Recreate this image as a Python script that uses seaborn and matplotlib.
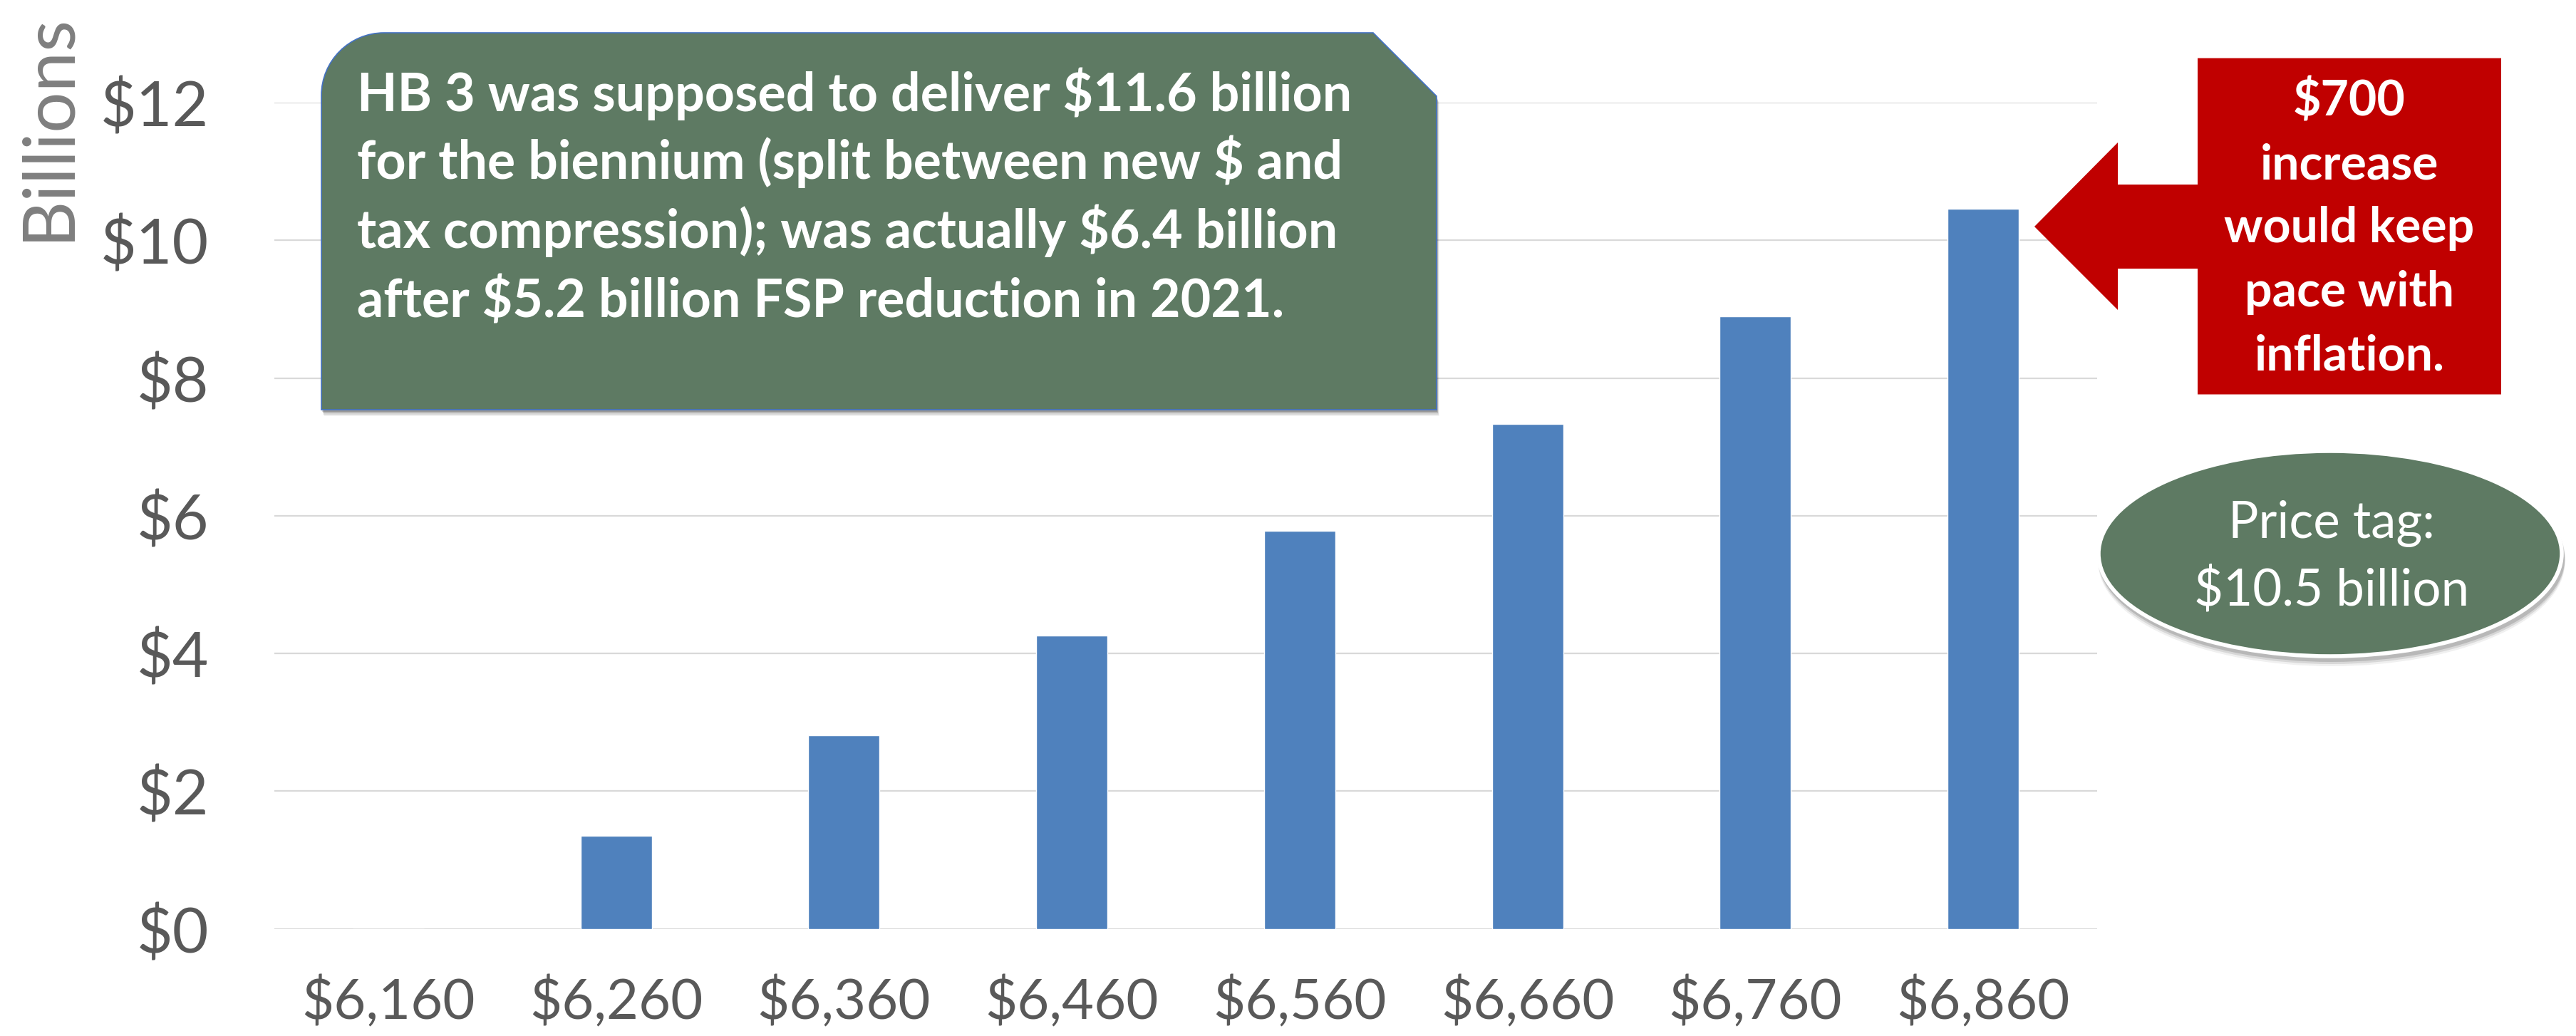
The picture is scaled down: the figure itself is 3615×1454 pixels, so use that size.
import numpy as np
import pandas as pd
import matplotlib
matplotlib.use("Agg")
import matplotlib.pyplot as plt
import seaborn as sns
from matplotlib.path import Path
from matplotlib.patches import PathPatch, Ellipse, Polygon

# ---------------- data ----------------
categories = ["$6,160", "$6,260", "$6,360", "$6,460", "$6,560", "$6,660", "$6,760", "$6,860"]
values = [0.0, 1.35, 2.81, 4.26, 5.78, 7.33, 8.90, 10.46]
y_ticks = [0, 2, 4, 6, 8, 10, 12]
y_tick_labels = ["$0", "$2", "$4", "$6", "$8", "$10", "$12"]
y_label = "Billions"
green_lines = ["HB 3 was supposed to deliver $11.6 billion",
               "for the biennium (split between new $ and",
               "tax compression); was actually $6.4 billion",
               "after $5.2 billion FSP reduction in 2021."]
red_lines = ["$700", "increase", "would keep", "pace with", "inflation."]
oval_lines = ["Price tag:", "$10.5 billion"]

# ---------------- style ----------------
sns.set_style("white")
plt.rcParams['font.family'] = ['Lato', 'DejaVu Sans']

W, H, DPI = 3615, 1454, 100
BAR = '#4F81BD'
GREEN = '#5E7A63'
RED = '#C00000'
TICK = '#595959'

fig = plt.figure(figsize=(W / DPI, H / DPI), dpi=DPI)
fig.patch.set_facecolor('white')

ax_l, ax_r, ax_t, ax_b = 385, 2943, 144, 1303.7
ax = fig.add_axes([ax_l / W, 1 - ax_b / H, (ax_r - ax_l) / W, (ax_b - ax_t) / H])

df = pd.DataFrame({"level": categories, "cost": values})
sns.barplot(data=df, x="level", y="cost", color=BAR, saturation=1,
            width=0.3125, ax=ax, zorder=3)
ax.set_xlim(-0.5, 7.5)
ax.set_ylim(0, 12)
ax.set_yticks(y_ticks)
ax.set_yticklabels(y_tick_labels)
ax.yaxis.grid(True, color='#D9D9D9', linewidth=1.6)
ax.xaxis.grid(False)
ax.set_axisbelow(True)
for s in ax.spines.values():
    s.set_visible(False)
ax.tick_params(axis='y', length=0, pad=66, labelsize=63, labelcolor=TICK)
ax.tick_params(axis='x', length=0, pad=48, labelsize=56, labelcolor=TICK)
ax.set_xlabel("")
ax.set_ylabel("")

fig.text(68 / W, 1 - 178 / H, y_label, rotation=90, ha='center', va='center',
         fontsize=73, color='#7F7F7F')

# ---------------- overlay (pixel coords, y down) ----------------
ov = fig.add_axes([0, 0, 1, 1])
ov.set_xlim(0, W)
ov.set_ylim(H, 0)
ov.axis('off')
ov.set_zorder(5)
ov.patch.set_alpha(0)

# green callout: rounded top-left, snipped top-right
L, R, T, B = 451, 2016, 46, 575
r, s = 88, 89
k = 0.5523 * r
verts = [(L, B), (R, B), (R, T + s), (R - s, T), (L + r, T),
         (L + r - k, T), (L, T + r - k), (L, T + r), (L, B)]
codes = [Path.MOVETO, Path.LINETO, Path.LINETO, Path.LINETO, Path.LINETO,
         Path.CURVE4, Path.CURVE4, Path.CURVE4, Path.CLOSEPOLY]
for d, a in [(9, 0.06), (7, 0.1), (5, 0.14), (3, 0.18)]:
    sh = [(x + d * 0.4, y + d) for x, y in verts]
    ov.add_patch(PathPatch(Path(sh, codes), facecolor='black', edgecolor='none', alpha=a))
ov.add_patch(PathPatch(Path(verts, codes), facecolor=GREEN, edgecolor='#4472C4', lw=1.2))
for line, yb in zip(green_lines, [156, 251, 348, 445]):
    ov.text(501, yb, line, ha='left', va='baseline', fontsize=53,
            fontweight='bold', color='white')

# red left-arrow callout
poly = [(3084, 81.6), (3510, 81.6), (3510, 553.5), (3084, 553.5), (3084, 377),
        (2972, 377), (2972, 435), (2855, 318), (2972, 200), (2972, 259), (3084, 259)]
ov.add_patch(Polygon(poly, closed=True, facecolor=RED, edgecolor='none'))
for line, yb in zip(red_lines, [162, 251, 340, 430, 519]):
    ov.text(3297, yb, line, ha='center', va='baseline', fontsize=49,
            fontweight='bold', color='white')

# oval
for d, a in [(12, 0.06), (9, 0.1), (6, 0.14)]:
    ov.add_patch(Ellipse((3272, 777 + d), 655, 292, facecolor='black',
                         edgecolor='none', alpha=a))
ov.add_patch(Ellipse((3270, 777), 650, 288, facecolor=GREEN, edgecolor='white', lw=4))
for line, yb in zip(oval_lines, [755, 850]):
    ov.text(3272, yb, line, ha='center', va='baseline', fontsize=51, color='white')

fig.savefig("out.png", dpi=DPI, facecolor='white')
